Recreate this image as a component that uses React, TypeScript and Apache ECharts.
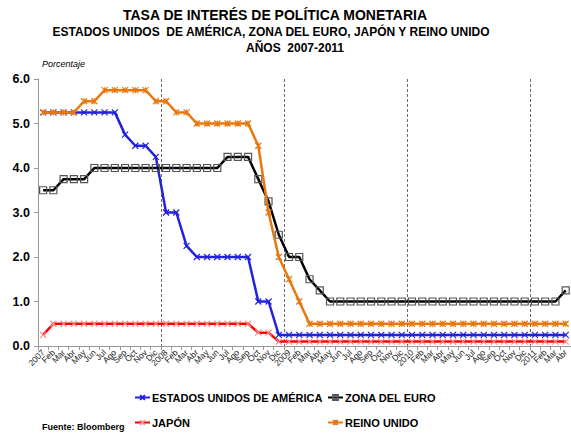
import React, { useEffect, useRef } from "react";
import * as echarts from "echarts";

const categories = [
  "2007", "Feb", "Mar", "Abr", "May", "Jun", "Jul", "Ago", "Sep", "Oct", "Nov", "Dic",
  "2008", "Feb", "Mar", "Abr", "May", "Jun", "Jul", "Ago", "Sep", "Oct", "Nov", "Dic",
  "2009", "Feb", "Mar", "Abr", "May", "Jun", "Jul", "Ago", "Sep", "Oct", "Nov", "Dic",
  "2010", "Feb", "Mar", "Abr", "May", "Jun", "Jul", "Ago", "Sep", "Oct", "Nov", "Dic",
  "2011", "Feb", "Mar", "Abr",
];

const usa = [
  5.25, 5.25, 5.25, 5.25, 5.25, 5.25, 5.25, 5.25, 4.75, 4.5, 4.5, 4.25,
  3.0, 3.0, 2.25, 2.0, 2.0, 2.0, 2.0, 2.0, 2.0, 1.0, 1.0, 0.25,
  0.25, 0.25, 0.25, 0.25, 0.25, 0.25, 0.25, 0.25, 0.25, 0.25, 0.25, 0.25,
  0.25, 0.25, 0.25, 0.25, 0.25, 0.25, 0.25, 0.25, 0.25, 0.25, 0.25, 0.25,
  0.25, 0.25, 0.25, 0.25,
];

const euro = [
  3.5, 3.5, 3.75, 3.75, 3.75, 4.0, 4.0, 4.0, 4.0, 4.0, 4.0, 4.0,
  4.0, 4.0, 4.0, 4.0, 4.0, 4.0, 4.25, 4.25, 4.25, 3.75, 3.25, 2.5,
  2.0, 2.0, 1.5, 1.25, 1.0, 1.0, 1.0, 1.0, 1.0, 1.0, 1.0, 1.0,
  1.0, 1.0, 1.0, 1.0, 1.0, 1.0, 1.0, 1.0, 1.0, 1.0, 1.0, 1.0,
  1.0, 1.0, 1.0, 1.25,
];

const japan = [
  0.25, 0.5, 0.5, 0.5, 0.5, 0.5, 0.5, 0.5, 0.5, 0.5, 0.5, 0.5,
  0.5, 0.5, 0.5, 0.5, 0.5, 0.5, 0.5, 0.5, 0.5, 0.3, 0.3, 0.1,
  0.1, 0.1, 0.1, 0.1, 0.1, 0.1, 0.1, 0.1, 0.1, 0.1, 0.1, 0.1,
  0.1, 0.1, 0.1, 0.1, 0.1, 0.1, 0.1, 0.1, 0.1, 0.1, 0.1, 0.1,
  0.1, 0.1, 0.1, 0.1,
];

const uk = [
  5.25, 5.25, 5.25, 5.25, 5.5, 5.5, 5.75, 5.75, 5.75, 5.75, 5.75, 5.5,
  5.5, 5.25, 5.25, 5.0, 5.0, 5.0, 5.0, 5.0, 5.0, 4.5, 3.0, 2.0,
  1.5, 1.0, 0.5, 0.5, 0.5, 0.5, 0.5, 0.5, 0.5, 0.5, 0.5, 0.5,
  0.5, 0.5, 0.5, 0.5, 0.5, 0.5, 0.5, 0.5, 0.5, 0.5, 0.5, 0.5,
  0.5, 0.5, 0.5, 0.5,
];

const yTicks = [0, 1, 2, 3, 4, 5, 6];

const seriesNames = [
  "ESTADOS UNIDOS DE AMÉRICA",
  "ZONA DEL EURO",
  "JAPÓN",
  "REINO UNIDO",
];

const CROSS = "path://M0,0L10,10M10,0L0,10";
const STAR = "path://M0,0L10,10M10,0L0,10M5,0L5,10";
const SQUARE = "path://M0,0L10,0L10,10L0,10Z";

export default function App() {
  const ref = useRef<HTMLDivElement>(null);

  useEffect(() => {
    if (!ref.current) return;
    const chart = echarts.init(ref.current, undefined, { renderer: "svg" });
    const font = "'Liberation Sans', Arial, sans-serif";

    const mk = (
      name: string,
      data: number[],
      lineColor: string,
      symbol: string,
      symColor: string,
      symSize: number,
      fill: string,
      z: number
    ) => ({
      name,
      type: "line",
      data,
      symbol,
      symbolSize: symSize,
      showAllSymbol: true,
      z,
      lineStyle: { color: lineColor, width: 2.5 },
      itemStyle: { color: fill, borderColor: symColor, borderWidth: 1.2 },
      emphasis: { disabled: true },
    });

    const legendAt = (name: string, left: number, top: number) => ({
      data: [name],
      left,
      top,
      orient: "horizontal",
      itemWidth: 15,
      itemHeight: 6,
      padding: 0,
      textStyle: { fontFamily: font, fontWeight: "bold", fontSize: 11, color: "#000", padding: [0, 0, 0, -3] },
      selectedMode: false,
    });

    chart.setOption({
      animation: false,
      textStyle: { fontFamily: font },
      grid: { left: 38, top: 79, width: 533, height: 267, containLabel: false },
      graphic: [
        {
          type: "text",
          x: 275,
          y: 15,
          style: {
            text: "TASA DE INTERÉS DE POLÍTICA MONETARIA",
            font: `bold 14px ${font}`,
            fill: "#000",
            align: "center",
            verticalAlign: "middle",
          },
        },
        {
          type: "text",
          x: 271,
          y: 32,
          style: {
            text: "ESTADOS UNIDOS  DE AMÉRICA, ZONA DEL EURO, JAPÓN Y REINO UNIDO",
            font: `bold 12px ${font}`,
            fill: "#000",
            align: "center",
            verticalAlign: "middle",
          },
        },
        {
          type: "text",
          x: 295,
          y: 48,
          style: {
            text: "AÑOS  2007-2011",
            font: `bold 12px ${font}`,
            fill: "#000",
            align: "center",
            verticalAlign: "middle",
          },
        },
        {
          type: "text",
          x: 42,
          y: 64,
          style: {
            text: "Porcentaje",
            font: `italic 9px ${font}`,
            fill: "#000",
            align: "left",
            verticalAlign: "middle",
          },
        },
        {
          type: "text",
          x: 42,
          y: 427,
          style: {
            text: "Fuente: Bloomberg",
            font: `bold 9px ${font}`,
            fill: "#000",
            align: "left",
            verticalAlign: "middle",
          },
        },
      ],
      legend: [
        legendAt(seriesNames[0], 134, 392),
        legendAt(seriesNames[2], 134, 417),
        legendAt(seriesNames[1], 327, 392),
        legendAt(seriesNames[3], 327, 417),
      ],
      xAxis: {
        type: "category",
        data: categories,
        boundaryGap: true,
        axisLine: { lineStyle: { color: "#999", width: 1 } },
        axisTick: { show: true, interval: 0, length: 4, lineStyle: { color: "#999" } },
        axisLabel: {
          interval: 0,
          rotate: 45,
          fontSize: 8.5,
          color: "#222",
          margin: 5,
          fontFamily: font,
        },
        splitLine: {
          show: true,
          interval: (index: number) => index > 0 && index % 12 === 0,
          lineStyle: { color: "#444", type: [3, 2], width: 0.8 },
        },
      },
      yAxis: {
        type: "value",
        min: yTicks[0],
        max: yTicks[yTicks.length - 1],
        interval: 1,
        axisLine: { show: true, lineStyle: { color: "#999", width: 1 } },
        axisTick: { show: true, length: 4, lineStyle: { color: "#999" } },
        splitLine: { show: false },
        axisLabel: {
          formatter: (v: number) => v.toFixed(1),
          fontSize: 12.5,
          fontWeight: "bold",
          color: "#000",
          margin: 8,
          fontFamily: font,
        },
      },
      series: [
        mk(seriesNames[0], usa, "#2222DD", CROSS, "#2222DD", 6, "transparent", 2),
        mk(seriesNames[1], euro, "#000000", SQUARE, "#555555", 7, "rgba(255,255,255,0)", 3),
        mk(seriesNames[2], japan, "#FF0000", CROSS, "#FF8C8C", 6, "transparent", 1),
        mk(seriesNames[3], uk, "#E8780E", STAR, "#E8780E", 6, "transparent", 4),
      ],
    });

    return () => chart.dispose();
  }, []);

  return (
    <div
      ref={ref}
      style={{ position: "fixed", left: 0, top: 0, width: 571, height: 438, background: "#fff" }}
    />
  );
}
